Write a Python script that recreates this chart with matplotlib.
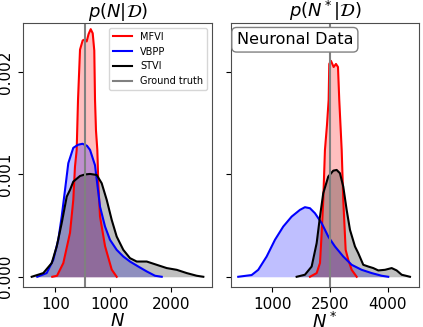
import numpy as np
import matplotlib
matplotlib.use("Agg")
import matplotlib.pyplot as plt

# posterior densities, left panel p(N|D)
n_mfvi = [49, 127, 231, 341, 395, 423, 451, 473, 506, 550, 588, 616, 646, 682,
          715, 741, 753, 769, 791, 807, 835, 918, 1028, 1110]
d_mfvi = [0, 0.00001, 0.000134, 0.000429, 0.000751, 0.001076, 0.001239, 0.00173,
          0.00222, 0.00231, 0.00232, 0.00230, 0.00237, 0.00242, 0.00238, 0.00221,
          0.00173, 0.00143, 0.00124, 0.00092, 0.00059, 0.00030, 0.00007, 0]

n_vbpp = [-198, -43, 66, 148, 204, 259, 313, 395, 473, 547, 621, 671, 753, 835,
          918, 1000, 1110, 1219, 1329, 1466, 1605, 1741, 1852]
d_vbpp = [0, 0.000036, 0.000166, 0.000361, 0.000588, 0.000849, 0.00111, 0.00126,
          0.00129, 0.0013, 0.00128, 0.00124, 0.00109, 0.000686, 0.000491, 0.000361,
          0.000263, 0.000198, 0.000149, 0.0001, 0.000052, 0.00001, 0]

n_stvi = [-290, -99, 40, 122, 204, 287, 341, 395, 506, 588, 671, 781, 863, 946,
          1028, 1110, 1219, 1329, 1440, 1605, 1769, 1934, 2099, 2264, 2428, 2537]
d_stvi = [0, 0.000036, 0.000134, 0.000296, 0.000524, 0.000783, 0.000849, 0.00093,
          0.000985, 0.001, 0.001005, 0.000995, 0.000914, 0.000751, 0.000556,
          0.000393, 0.000263, 0.000182, 0.000149, 0.000149, 0.000117, 0.000085,
          0.000068, 0.000036, 0.00001, 0]

# right panel p(N*|D)
ns_mfvi = [1981, 2155, 2241, 2285, 2326, 2370, 2422, 2466, 2482, 2526, 2596, 2656,
           2708, 2741, 2804, 2845, 2907, 2975, 3063, 3193]
ds_mfvi = [0, 0.000036, 0.000134, 0.000426, 0.000751, 0.00124, 0.00148, 0.00173,
           0.00208, 0.00211, 0.00205, 0.00208, 0.00205, 0.00173, 0.00124, 0.000751,
           0.000263, 0.000166, 0.000068, 0]

ns_vbpp = [121, 469, 640, 858, 1073, 1289, 1506, 1722, 1851, 1981, 2111, 2285,
           2456, 2630, 2845, 3063, 3322, 3582, 3841, 4012]
ds_vbpp = [0, 0.000017, 0.000068, 0.000198, 0.000361, 0.000491, 0.000588, 0.000654,
           0.00068, 0.00067, 0.000621, 0.000524, 0.000393, 0.000296, 0.000198,
           0.000117, 0.000068, 0.000036, 0.00001, 0]

ns_stvi = [1636, 1851, 2025, 2155, 2241, 2326, 2456, 2586, 2674, 2759, 2845, 2933,
           3019, 3149, 3234, 3364, 3494, 3623, 3753, 3927, 4101, 4230, 4360, 4575]
ds_stvi = [0, 0.00002, 0.0001, 0.000329, 0.000588, 0.000817, 0.000979, 0.001037,
           0.001044, 0.001012, 0.000881, 0.000654, 0.000459, 0.000296, 0.000231,
           0.000117, 0.0001, 0.000085, 0.000062, 0.000068, 0.000085, 0.000062,
           0.00002, 0]

truth_n = 590
truth_ns = 2500

fig = plt.figure(figsize=(4.23, 3.27), dpi=100)
ax1 = fig.add_axes([0.0544, 0.1223, 0.4468, 0.8073])
ax2 = fig.add_axes([0.546, 0.1223, 0.4445, 0.8073], sharey=ax1)

def draw(ax, series, truth):
    for x, y, c, lab in series:
        ax.plot(x, y, color=c, lw=1.5, label=lab)
        ax.fill_between(x, y, color=c, alpha=0.25, lw=0)
    ax.axvline(truth, color='grey', lw=1.5, label='Ground truth')

draw(ax1, [(n_mfvi, d_mfvi, 'red', 'MFVI'), (n_vbpp, d_vbpp, 'blue', 'VBPP'),
           (n_stvi, d_stvi, 'black', 'STVI')], truth_n)
draw(ax2, [(ns_mfvi, ds_mfvi, 'red', 'MFVI'), (ns_vbpp, ds_vbpp, 'blue', 'VBPP'),
           (ns_stvi, ds_stvi, 'black', 'STVI')], truth_ns)

ax1.set_xlim(-433, 2680)
ax2.set_xlim(-68, 4809)
ax1.set_ylim(-0.0001, 0.00248)
ax1.set_xticks([100, 1000, 2000])
ax2.set_xticks([1000, 2500, 4000])
ax1.set_yticks([0, 0.001, 0.002])
ax1.set_yticklabels(['0.000', '0.001', '0.002'], rotation=90, va='center')
plt.setp(ax2.get_yticklabels(), visible=False)

for ax in (ax1, ax2):
    ax.tick_params(labelsize=11)
    for s in ax.spines.values():
        s.set_color('0.3')

ax1.set_title(r'$p(N|\mathcal{D})$', fontsize=13, pad=3)
ax2.set_title(r'$p(N^*|\mathcal{D})$', fontsize=13, pad=3)
ax1.set_xlabel(r'$N$', fontsize=13, labelpad=0)
ax2.set_xlabel(r'$N^*$', fontsize=13, labelpad=0)

ax1.legend(loc='upper right', fontsize=7)
ax2.text(0.03, 0.965, 'Neuronal Data', transform=ax2.transAxes, fontsize=11.5,
         va='top', ha='left',
         bbox=dict(boxstyle='round', facecolor='white', edgecolor='0.5'))

fig.savefig('out.png', dpi=100)
